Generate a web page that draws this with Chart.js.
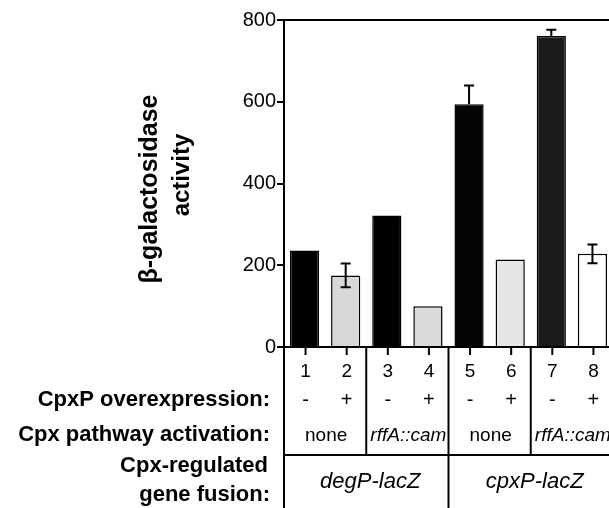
<!DOCTYPE html>
<html>
<head>
<meta charset="utf-8">
<script src="https://cdn.jsdelivr.net/npm/chart.js@4.4.1/dist/chart.umd.min.js"></script>
<style>
  html, body { margin: 0; padding: 0; background: #fff; overflow: hidden; }
  canvas { display: block; }
</style>
</head>
<body>
<canvas id="chart" width="613" height="508"></canvas>
<script>
// lane numbers and measured beta-galactosidase activity
const lanes = ['1', '2', '3', '4', '5', '6', '7', '8'];
const activity = [236, 175, 322, 100, 594, 214, 761, 228];
const errors = [0, 29, 0, 0, 46, 0, 15, 23];

// table rows below the bars
const overexpression = ['-', '+', '-', '+', '-', '+', '-', '+'];
const activation = ['none', 'rffA::cam', 'none', 'rffA::cam'];   // one per pair of lanes
const fusions = ['degP-lacZ', 'cpxP-lacZ'];                       // one per four lanes
const rowLabels = ['CpxP overexpression:', 'Cpx pathway activation:'];
const fusionLabel = ['Cpx-regulated', 'gene fusion:'];
const yTitle = ['\u03b2-galactosidase', 'activity'];

const FONT = '"Liberation Sans", Arial, Helvetica, sans-serif';
const barColors = ['#000000', '#d8d8d8', '#000000', '#dadada', '#050505', '#e6e6e6', '#1a1a1a', '#ffffff'];

// error bars drawn over the bars (lower half only shows on the pale bars)
const errorBars = {
    id: 'errorBars',
    afterDatasetsDraw(chart) {
        const { ctx, scales: { x, y } } = chart;
        ctx.save();
        ctx.strokeStyle = '#000';
        ctx.lineWidth = 2;
        errors.forEach((e, i) => {
            if (!e) return;
            const cx = x.getPixelForValue(i);
            const mid = y.getPixelForValue(activity[i]);
            const hi = y.getPixelForValue(activity[i] + e);
            const lo = y.getPixelForValue(activity[i] - e);
            const pale = i % 2 === 1;
            ctx.beginPath();
            ctx.moveTo(cx, hi); ctx.lineTo(cx, pale ? lo : mid);
            ctx.moveTo(cx - 5, hi); ctx.lineTo(cx + 5, hi);
            if (pale) { ctx.moveTo(cx - 5, lo); ctx.lineTo(cx + 5, lo); }
            ctx.stroke();
        });
        ctx.restore();
    }
};

// frame, axis title and the legend table under the plot
const tableDecor = {
    id: 'tableDecor',
    afterDraw(chart) {
        const { ctx, chartArea: area, scales: { x } } = chart;
        const W = chart.width, H = chart.height;
        const base = area.bottom;
        const rowLine = base + 108;
        const center = i => x.getPixelForValue(i);
        const edge = i => (center(i) + center(i + 1)) / 2;

        ctx.save();
        ctx.strokeStyle = '#000';
        ctx.fillStyle = '#000';
        ctx.lineWidth = 2;

        // top frame line
        ctx.beginPath();
        ctx.moveTo(area.left, area.top); ctx.lineTo(W, area.top);
        // baseline and table lines
        ctx.moveTo(area.left, base); ctx.lineTo(W, base);
        ctx.moveTo(area.left, base); ctx.lineTo(area.left, H);
        ctx.moveTo(area.left, rowLine); ctx.lineTo(W, rowLine);
        [1, 5].forEach(i => { ctx.moveTo(edge(i), base); ctx.lineTo(edge(i), rowLine); });
        ctx.moveTo(edge(3), base); ctx.lineTo(edge(3), H);
        lanes.forEach((l, i) => { ctx.moveTo(center(i) + 1, base); ctx.lineTo(center(i) + 1, base + 8); });
        ctx.stroke();

        ctx.textAlign = 'center';
        ctx.textBaseline = 'middle';
        ctx.font = '19px ' + FONT;
        lanes.forEach((l, i) => ctx.fillText(l, center(i) + 1, base + 25));
        ctx.font = '20px ' + FONT;
        overexpression.forEach((s, i) => ctx.fillText(s, center(i) + 1, base + 53));
        activation.forEach((s, k) => {
            const cx = (center(2 * k) + center(2 * k + 1)) / 2 + 1;
            ctx.font = (s === 'none' ? '' : 'italic ') + '19px ' + FONT;
            ctx.fillText(s, cx, base + 89);
        });
        ctx.font = 'italic 22px ' + FONT;
        fusions.forEach((s, k) => {
            const cx = (center(4 * k + 1) + center(4 * k + 2)) / 2 + 4;
            ctx.fillText(s, cx, base + 135);
        });

        // row labels on the left
        ctx.textAlign = 'right';
        ctx.font = 'bold 22px ' + FONT;
        ctx.fillText(rowLabels[0], 270, base + 53);
        ctx.fillText(rowLabels[1], 270, base + 88);
        ctx.fillText(fusionLabel[0], 268, base + 119);
        ctx.fillText(fusionLabel[1], 270, base + 148);

        // rotated y title
        ctx.textAlign = 'center';
        ctx.save();
        ctx.font = 'bold 25px ' + FONT;
        ctx.translate(150, 189);
        ctx.rotate(-Math.PI / 2);
        ctx.fillText(yTitle[0], 0, 0);
        ctx.restore();
        ctx.save();
        ctx.font = 'bold 24px ' + FONT;
        ctx.translate(182, 175);
        ctx.rotate(-Math.PI / 2);
        ctx.fillText(yTitle[1], 0, 0);
        ctx.restore();

        ctx.restore();
    }
};

new Chart(document.getElementById('chart'), {
    type: 'bar',
    data: {
        labels: lanes,
        datasets: [{
            data: activity,
            backgroundColor: barColors,
            borderColor: '#000',
            borderWidth: 1.5,
            barPercentage: 0.71,
            categoryPercentage: 1
        }]
    },
    options: {
        responsive: false,
        animation: false,
        layout: { padding: { left: 224, right: 0, top: 20, bottom: 161 } },
        plugins: { legend: { display: false }, tooltip: { enabled: false } },
        scales: {
            x: { display: false },
            y: {
                min: 0,
                max: 800,
                afterFit(scale) { scale.width = 60; },
                ticks: { stepSize: 200, color: '#000', padding: 1, font: { family: FONT, size: 20 } },
                grid: { drawOnChartArea: false, tickLength: 7, color: '#000', lineWidth: 2 },
                border: { display: true, color: '#000', width: 2 }
            }
        }
    },
    plugins: [errorBars, tableDecor]
});
</script>
</body>
</html>
